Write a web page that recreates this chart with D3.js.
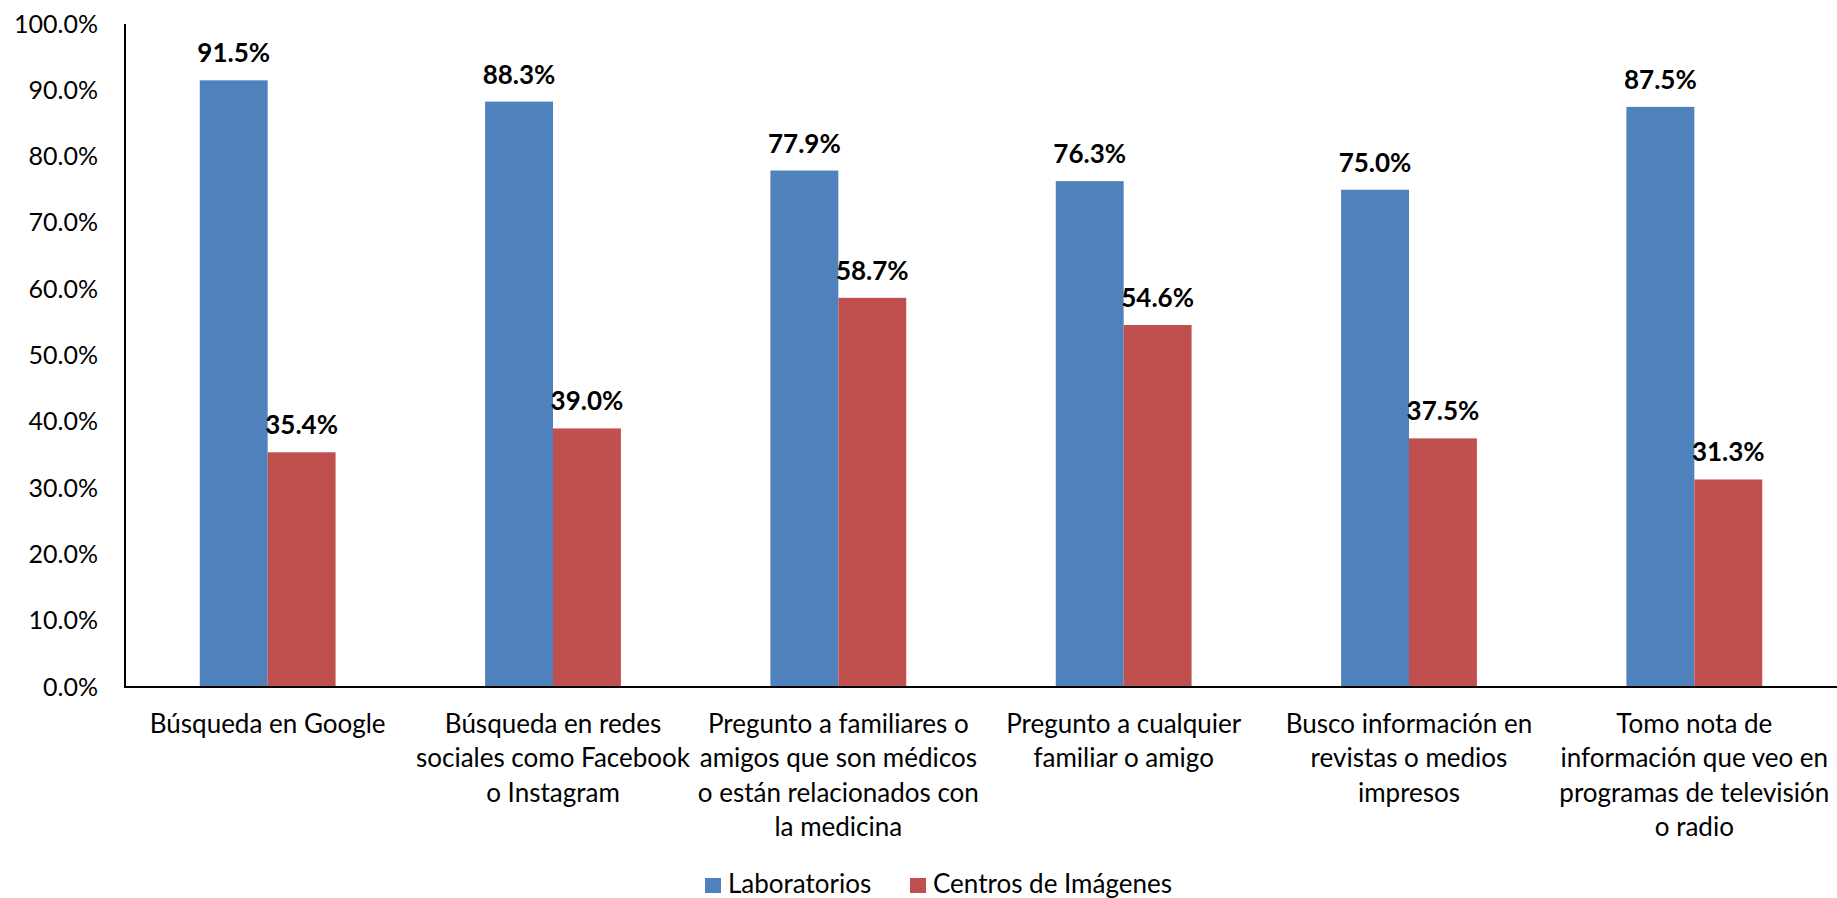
<!DOCTYPE html>
<html>
<head>
<meta charset="utf-8">
<script src="https://cdn.jsdelivr.net/npm/d3@7"></script>
<style>
  body { margin: 0; background: #fff; }
  text { font-family: Lato, "Open Sans", sans-serif; fill: #000; }
  .tick text { font-size: 25px; }
  .valueLabel { font-size: 26px; font-weight: bold; }
  .catLabel { font-size: 26px; }
  .legend text { font-size: 26px; }
</style>
</head>
<body>
<div id="chart"></div>
<script>
// categories, one array of wrapped lines each
const categories = [
  ["Búsqueda en Google"],
  ["Búsqueda en redes", "sociales como Facebook", "o Instagram"],
  ["Pregunto a familiares o", "amigos que son médicos", "o están relacionados con", "la medicina"],
  ["Pregunto a cualquier", "familiar o amigo"],
  ["Busco información en", "revistas o medios", "impresos"],
  ["Tomo nota de", "información que veo en", "programas de televisión", "o radio"]
];
const seriesNames = ["Laboratorios", "Centros de Imágenes"];
const laboratorios = [91.5, 88.3, 77.9, 76.3, 75.0, 87.5];
const centros = [35.4, 39.0, 58.7, 54.6, 37.5, 31.3];
const yTicks = [0, 10, 20, 30, 40, 50, 60, 70, 80, 90, 100];
const colours = ["#4F81BD", "#C0504D"];

const width = 1837, height = 898;
const margin = { top: 24, right: 0, bottom: 211, left: 125 };

const svg = d3.select("#chart").append("svg")
  .attr("width", width)
  .attr("height", height);

const keys = categories.map((d, i) => i);
const data = keys.map(i => ({ key: i, values: [laboratorios[i], centros[i]] }));

let x0 = d3.scaleBand()
  .domain(keys)
  .range([margin.left, width - margin.right])
  .paddingInner(0.524)
  .paddingOuter(0.262);

let x1 = d3.scaleBand()
  .domain([0, 1])
  .range([0, x0.bandwidth()]);

let y = d3.scaleLinear()
  .domain([0, 100])
  .range([height - margin.bottom, margin.top]);

// y axis labels
let yAxis = d3.axisLeft(y)
  .tickValues(yTicks)
  .tickSize(0)
  .tickPadding(27)
  .tickFormat(d => d3.format(".1f")(d) + "%");

svg.append("g")
  .attr("class", "axis yAxis")
  .attr("transform", `translate(${margin.left},0)`)
  .call(yAxis)
  .call(g => g.select(".domain").remove());

// bars
let groups = svg.selectAll("g.group")
  .data(data)
  .enter()
  .append("g")
  .attr("class", "group")
  .attr("transform", d => `translate(${x0(d.key)},0)`);

groups.selectAll("rect.bar")
  .data(d => d.values.map((v, s) => ({ s: s, v: v })))
  .enter()
  .append("rect")
  .attr("class", "bar")
  .attr("x", d => x1(d.s))
  .attr("width", x1.bandwidth())
  .attr("y", d => y(d.v))
  .attr("height", d => y(0) - y(d.v))
  .style("fill", d => colours[d.s]);

groups.selectAll("text.valueLabel")
  .data(d => d.values.map((v, s) => ({ s: s, v: v })))
  .enter()
  .append("text")
  .attr("class", "valueLabel")
  .attr("x", d => x1(d.s) + x1.bandwidth() / 2)
  .attr("y", d => y(d.v) - 18)
  .style("text-anchor", "middle")
  .text(d => d3.format(".1f")(d.v) + "%");

// axis lines
svg.append("line")
  .attr("x1", margin.left).attr("x2", margin.left)
  .attr("y1", y(100)).attr("y2", y(0))
  .style("stroke", "#000").style("stroke-width", 2);

svg.append("line")
  .attr("x1", margin.left - 1).attr("x2", width - margin.right)
  .attr("y1", y(0)).attr("y2", y(0))
  .style("stroke", "#000").style("stroke-width", 2);

// category labels
svg.selectAll("text.catLabel")
  .data(data)
  .enter()
  .append("text")
  .attr("class", "catLabel")
  .attr("x", d => x0(d.key) + x0.bandwidth() / 2)
  .attr("y", y(0) + 46)
  .style("text-anchor", "middle")
  .selectAll("tspan")
  .data(d => categories[d.key])
  .enter()
  .append("tspan")
  .attr("x", function() { return this.parentNode.getAttribute("x"); })
  .attr("dy", (d, i) => i === 0 ? 0 : 34.3)
  .text(d => d);

// legend
const legendX = [705, 910];
let legend = svg.append("g").attr("class", "legend");
seriesNames.forEach((name, i) => {
  legend.append("rect")
    .attr("x", legendX[i])
    .attr("y", 878)
    .attr("width", 16)
    .attr("height", 15)
    .style("fill", colours[i]);
  legend.append("text")
    .attr("x", legendX[i] + 23)
    .attr("y", 893)
    .text(name);
});
</script>
</body>
</html>
